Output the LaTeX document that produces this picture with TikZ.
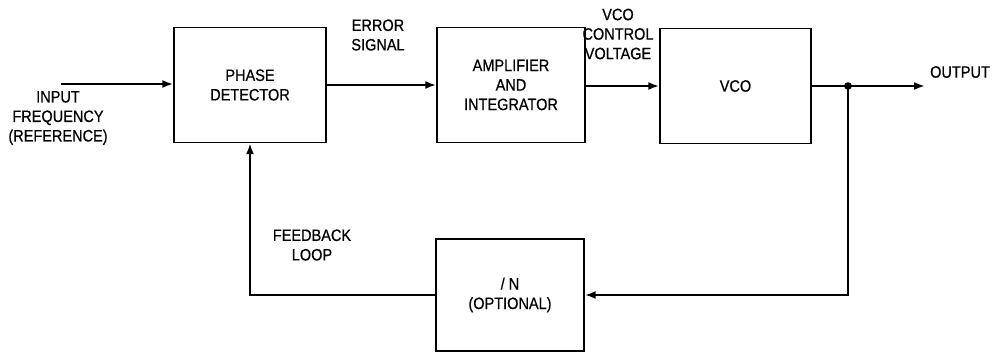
\documentclass[tikz,border=0pt]{standalone}
\usepackage{fontspec}
\setmainfont{Liberation Sans}[FakeBold=0.6,FakeStretch=0.88]
\usetikzlibrary{arrows.meta}
\begin{document}
\begin{tikzpicture}[x=1pt,y=-1pt,
  blk/.style={draw,line width=1.4pt,minimum width=150pt,minimum height=115pt,inner sep=0pt,align=center,font=\fontsize{16.5}{19.5}\selectfont},
  lbl/.style={align=center,inner sep=0pt,font=\fontsize{16.5}{19.5}\selectfont},
  conn/.style={line width=2pt,-{Latex[length=11pt,width=8pt]}}]
\useasboundingbox (0,0) rectangle (1000,353);
\node[blk,minimum width=152pt] (pd) at (250,85) {PHASE\\DETECTOR};
\node[blk,minimum width=148pt] (amp) at (511,85) {AMPLIFIER\\AND\\INTEGRATOR};
\node[blk,minimum width=151pt] (vco) at (735.5,86) {VCO};
\node[blk,minimum width=148pt,minimum height=112pt] (n) at (510,295) {/ N\\(OPTIONAL)};
\coordinate (in) at (61,84);
\coordinate (out) at (925,86);
\coordinate (j) at (848,86);
\draw[conn] (in) -- (in -| pd.west);
\draw[conn] (pd.east |- amp) -- (amp.west);
\draw[conn] (amp.east |- vco) -- (vco.west);
\draw[conn] (vco.east) -- (out);
\fill (j) circle (3.8pt);
\draw[conn] (j) |- (n.east);
\draw[conn] (n.west) -| (pd.south);
\node[lbl] (tin) at (58,118) {INPUT\\FREQUENCY\\(REFERENCE)};
\node[lbl] (terr) at (378,35) {ERROR\\SIGNAL};
\node[lbl] (tvco) at (618,34) {VCO\\CONTROL\\VOLTAGE};
\node[lbl] (tout) at (960,72) {OUTPUT};
\node[lbl] (tfb) at (312,245) {FEEDBACK\\LOOP};
\end{tikzpicture}
\end{document}
